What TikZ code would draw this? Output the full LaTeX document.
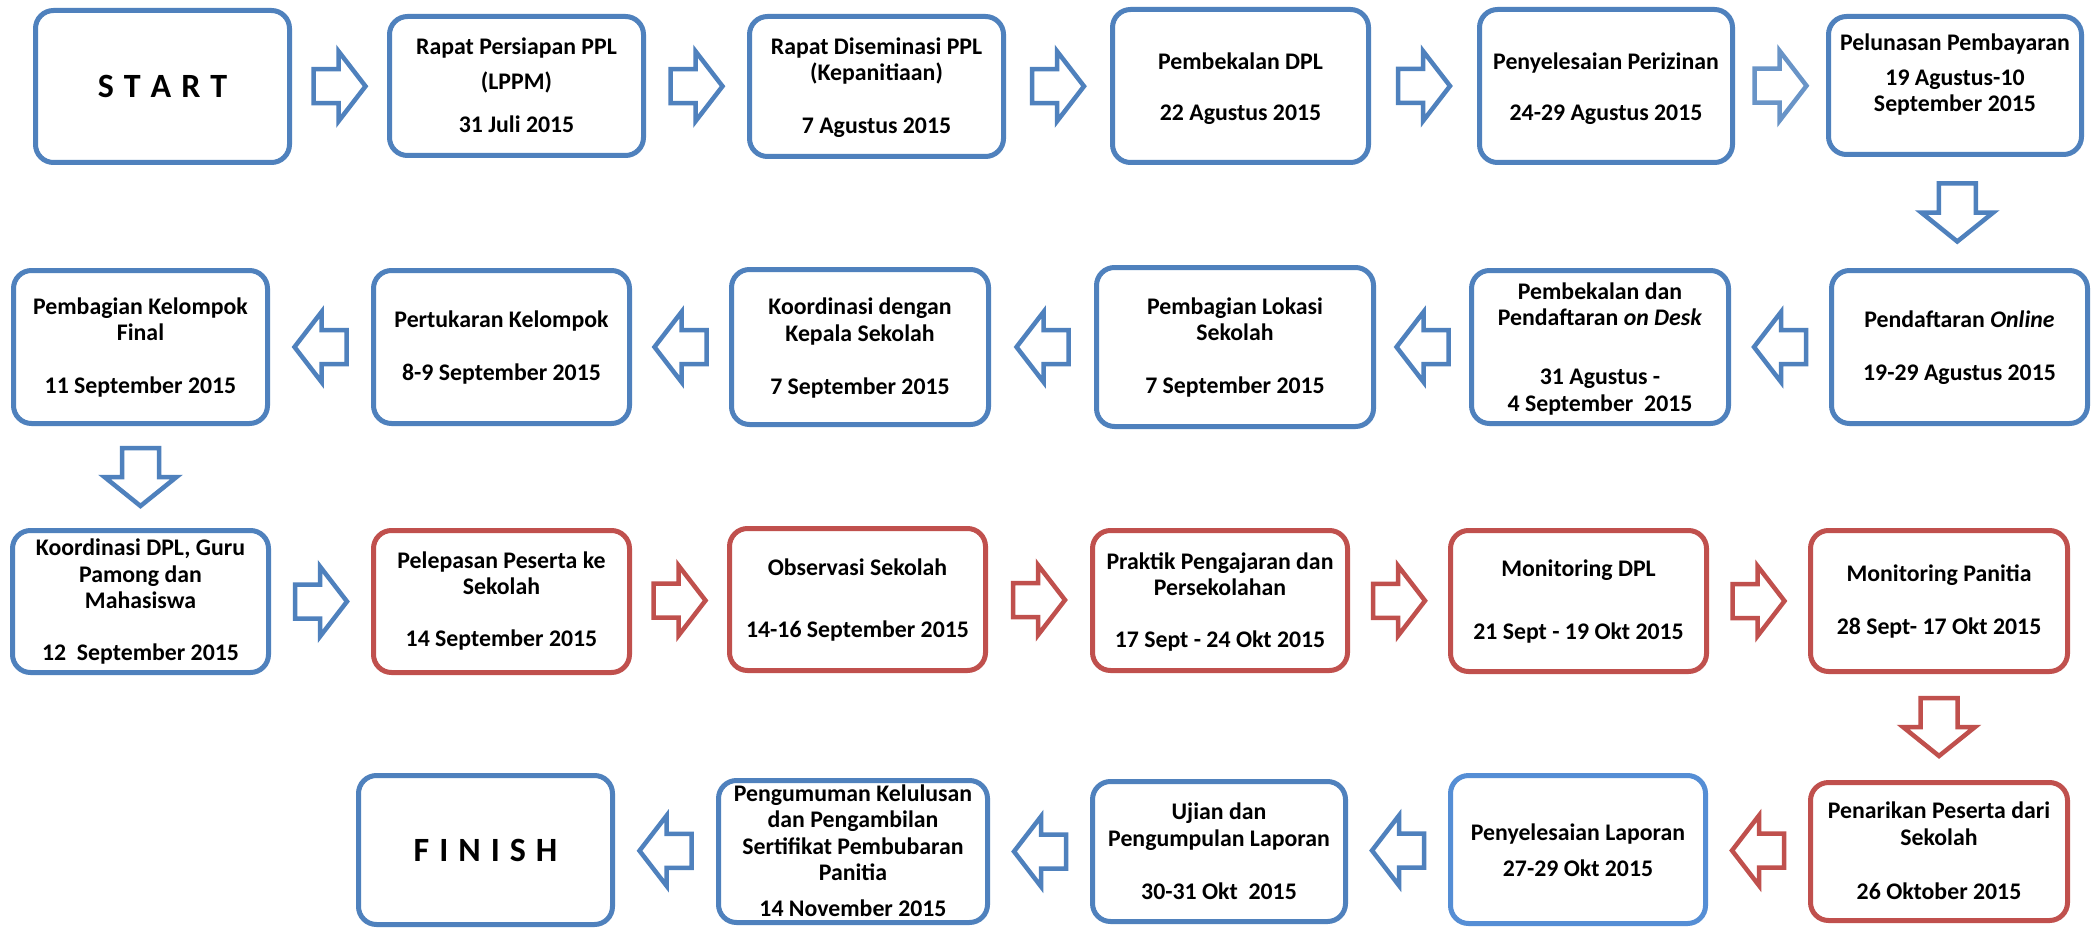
\documentclass[tikz,border=0pt]{standalone}
\usepackage{fontspec}
\setmainfont{Carlito}
\usetikzlibrary{calc,shadows}
\definecolor{oblue}{RGB}{79,129,189}
\definecolor{ored}{RGB}{192,80,77}
\definecolor{lblue}{RGB}{85,142,213}
\tikzset{
  stepbox/.style={draw=oblue, line width=5pt, rounded corners=18pt, fill=white, inner sep=0pt},
  redbox/.style={stepbox, draw=ored},
  lbl/.style={font=\fontsize{23.8}{26.5}\selectfont\bfseries, align=center, inner sep=0pt},
  big/.style={font=\fontsize{34}{40}\selectfont\bfseries, inner sep=0pt},
  harrow/.pic={\draw[line width=4.5pt, fill=white, line join=miter, pic actions]
     (-26,-17) -- (-1,-17) -- (-1,-35) -- (26,0) -- (-1,35) -- (-1,17) -- (-26,17) -- cycle;},
  varrow/.pic={\draw[line width=4.5pt, fill=white, line join=miter, pic actions]
     (-29,-18.5) -- (0,-18.5) -- (0,-36) -- (29,0) -- (0,36) -- (0,18.5) -- (-29,18.5) -- cycle;},
}
\begin{document}
\begin{tikzpicture}[x=1pt, y=-1pt]
\fill[white] (0,0) rectangle (2100,928);
\useasboundingbox (0,0) rectangle (2100,928);

% ---------- row 1 ----------
\node[stepbox, minimum width=254pt, minimum height=152pt] (start) at (162.5,86.5) {};
\node[stepbox, minimum width=254pt, minimum height=139pt] (p1) at (516.5,86) {};
\node[stepbox, minimum width=254pt, minimum height=140pt] (p2) at (876.5,86.5) {};
\node[stepbox, minimum width=256pt, minimum height=153pt] (p3) at (1240.5,86) {};
\node[stepbox, minimum width=253pt, minimum height=153pt] (p4) at (1606,86) {};
\node[stepbox, minimum width=253pt, minimum height=138pt] (p5) at (1955,85.5) {};

\node[big] (start-t) at (162.5,86) {S\hspace{10pt}T\hspace{10pt}A\hspace{10pt}R\hspace{10pt}T};
\node[lbl] (p1-t) at (516.5,88.4) {\strut Rapat Persiapan PPL\\[8.5pt](LPPM)\\[16.5pt]31 Juli 2015\strut};
\node[lbl] (p2-t) at (876.5,88.9) {\strut Rapat Diseminasi PPL\\(Kepanitiaan)\\[26.5pt]7 Agustus 2015\strut};
\node[lbl] (p3-t) at (1240.5,89.9) {\strut Pembekalan DPL\\[24.5pt]22 Agustus 2015\strut};
\node[lbl] (p4-t) at (1606,89.9) {\strut Penyelesaian Perizinan\\[24.5pt]24-29 Agustus 2015\strut};
\node[lbl] (p5-t) at (1955,75.9) {\strut Pelunasan Pembayaran\\[8.5pt]19 Agustus-10\\September 2015\strut};

% ---------- row 2 ----------
\node[stepbox, minimum width=256pt, minimum height=153pt] (q1) at (1959.5,347) {};
\node[stepbox, minimum width=257pt, minimum height=153pt] (q2) at (1600,347) {};
\node[stepbox, minimum width=277pt, minimum height=159pt] (q3) at (1235,347) {};
\node[stepbox, minimum width=257pt, minimum height=155pt] (q4) at (860,347) {};
\node[stepbox, minimum width=256pt, minimum height=153pt] (q5) at (501.5,347) {};
\node[stepbox, minimum width=254pt, minimum height=153pt] (q6) at (140.5,347) {};

\node[lbl] (q1-t) at (1959.5,348.9) {\strut Pendaftaran \textit{Online}\\[26.5pt]19-29 Agustus 2015\strut};
\node[lbl] (q2-t) at (1600,349.9) {\strut Pembekalan dan\\Pendaftaran \textit{on Desk}\\[32.5pt]31 Agustus -\\4 September\ \ 2015\strut};
\node[lbl] (q3-t) at (1235,348.9) {\strut Pembagian Lokasi\\Sekolah\\[26.5pt]7 September 2015\strut};
\node[lbl] (q4-t) at (860,349.4) {\strut Koordinasi dengan\\Kepala Sekolah\\[26.5pt]7 September 2015\strut};
\node[lbl] (q5-t) at (501.5,348.9) {\strut Pertukaran Kelompok\\[26.5pt]8-9 September 2015\strut};
\node[lbl] (q6-t) at (140.5,348.9) {\strut Pembagian Kelompok\\Final\\[26.5pt]11 September 2015\strut};

% ---------- row 3 ----------
\node[stepbox, minimum width=256pt, minimum height=142pt] (r1) at (140.5,601.5) {};
\node[redbox, minimum width=256pt, minimum height=142pt] (r2) at (501.5,601.5) {};
\node[redbox, minimum width=256pt, minimum height=142pt] (r3) at (857.5,599.5) {};
\node[redbox, minimum width=255pt, minimum height=140pt] (r4) at (1220,600.5) {};
\node[redbox, minimum width=256pt, minimum height=141pt] (r5) at (1578.5,601) {};
\node[redbox, minimum width=257pt, minimum height=141pt] (r6) at (1939,601) {};

\node[lbl] (r1-t) at (140.5,602.9) {\strut Koordinasi DPL, Guru\\Pamong dan\\Mahasiswa\\[25.5pt]12\ \ September 2015\strut};
\node[lbl] (r2-t) at (501.5,602.4) {\strut Pelepasan Peserta ke\\Sekolah\\[25.5pt]14 September 2015\strut};
\node[lbl] (r3-t) at (857.5,601.4) {\strut Observasi Sekolah\\[35.5pt]14-16 September 2015\strut};
\node[lbl] (r4-t) at (1220,603.4) {\strut Praktik Pengajaran dan\\Persekolahan\\[25.5pt]17 Sept - 24 Okt 2015\strut};
\node[lbl] (r5-t) at (1578.5,602.9) {\strut Monitoring DPL\\[36.5pt]21 Sept - 19 Okt 2015\strut};
\node[lbl] (r6-t) at (1939,602.9) {\strut Monitoring Panitia\\[26.5pt]28 Sept- 17 Okt 2015\strut};

% ---------- row 4 ----------
\node[redbox, minimum width=257pt, minimum height=138pt] (s1) at (1939,851.5) {};
\node[stepbox, draw=lblue, minimum width=255pt, minimum height=148pt] (s2) at (1578,849.5) {};
\node[stepbox, minimum width=253pt, minimum height=140pt] (s3) at (1219,851.5) {};
\node[stepbox, minimum width=269pt, minimum height=142pt] (s4) at (853,851.5) {};
\node[stepbox, minimum width=254pt, minimum height=149pt] (s5) at (485.5,850) {};

\node[lbl] (s1-t) at (1939,853.9) {\strut Penarikan Peserta dari\\Sekolah\\[27.5pt]26 Oktober 2015\strut};
\node[lbl] (s2-t) at (1578,853.4) {\strut Penyelesaian Laporan\\[9.5pt]27-29 Okt 2015\strut};
\node[lbl] (s3-t) at (1219,854.4) {\strut Ujian dan\\Pengumpulan Laporan\\[26.5pt]30-31 Okt\ \ 2015\strut};
\node[lbl] (s4-t) at (853,853.9) {\strut Pengumuman Kelulusan\\dan Pengambilan\\Sertifikat Pembubaran\\Panitia\\[9.5pt]14 November 2015\strut};
\node[big] (s5-t) at (485.5,850) {F\hspace{10pt}I\hspace{10pt}N\hspace{10pt}I\hspace{10pt}S\hspace{10pt}H};

% ---------- block arrows ----------
% row 1 (to the right)
\pic[draw=oblue] at ($(start.east)!0.5!(p1.west)$) {harrow};
\pic[draw=oblue] at ($(p1.east)!0.5!(p2.west)$) {harrow};
\pic[draw=oblue] at ($(p2.east)!0.5!(p3.west)$) {harrow};
\pic[draw=oblue] at ($(p3.east)!0.5!(p4.west)$) {harrow};
\pic[draw=oblue!85, drop shadow={shadow xshift=2pt, shadow yshift=-3pt, opacity=0.3, fill=black!60}] at ($(p4.east)!0.5!(p5.west)$) {harrow};
\pic[draw=oblue, rotate=-90] at ($(p5.south)!0.5!(q1.north)$) {varrow};
% row 2 (to the left)
\pic[draw=oblue, rotate=180] at ($(q1.west)!0.5!(q2.east)$) {harrow};
\pic[draw=oblue, rotate=180] at ($(q2.west)!0.5!(q3.east)$) {harrow};
\pic[draw=oblue, rotate=180] at ($(q3.west)!0.5!(q4.east)$) {harrow};
\pic[draw=oblue, rotate=180] at ($(q4.west)!0.5!(q5.east)$) {harrow};
\pic[draw=oblue, rotate=180] at ($(q5.west)!0.5!(q6.east)$) {harrow};
\pic[draw=oblue, rotate=-90] at ($(q6.south)!0.5!(r1.north)$) {varrow};
% row 3 (to the right)
\pic[draw=oblue] at ($(r1.east)!0.5!(r2.west)$) {harrow};
\pic[draw=ored] at ($(r2.east)!0.5!(r3.west)$) {harrow};
\pic[draw=ored] at ($(r3.east)!0.5!(r4.west)$) {harrow};
\pic[draw=ored] at ($(r4.east)!0.5!(r5.west)$) {harrow};
\pic[draw=ored] at ($(r5.east)!0.5!(r6.west)$) {harrow};
\pic[draw=ored, rotate=-90] at ($(r6.south)!0.5!(s1.north)$) {varrow};
% row 4 (to the left)
\pic[draw=ored, rotate=180] at ($(s1.west)!0.5!(s2.east)$) {harrow};
\pic[draw=oblue, rotate=180] at ($(s2.west)!0.5!(s3.east)$) {harrow};
\pic[draw=oblue, rotate=180] at ($(s3.west)!0.5!(s4.east)$) {harrow};
\pic[draw=oblue, rotate=180] at ($(s4.west)!0.5!(s5.east)$) {harrow};
\end{tikzpicture}
\end{document}
